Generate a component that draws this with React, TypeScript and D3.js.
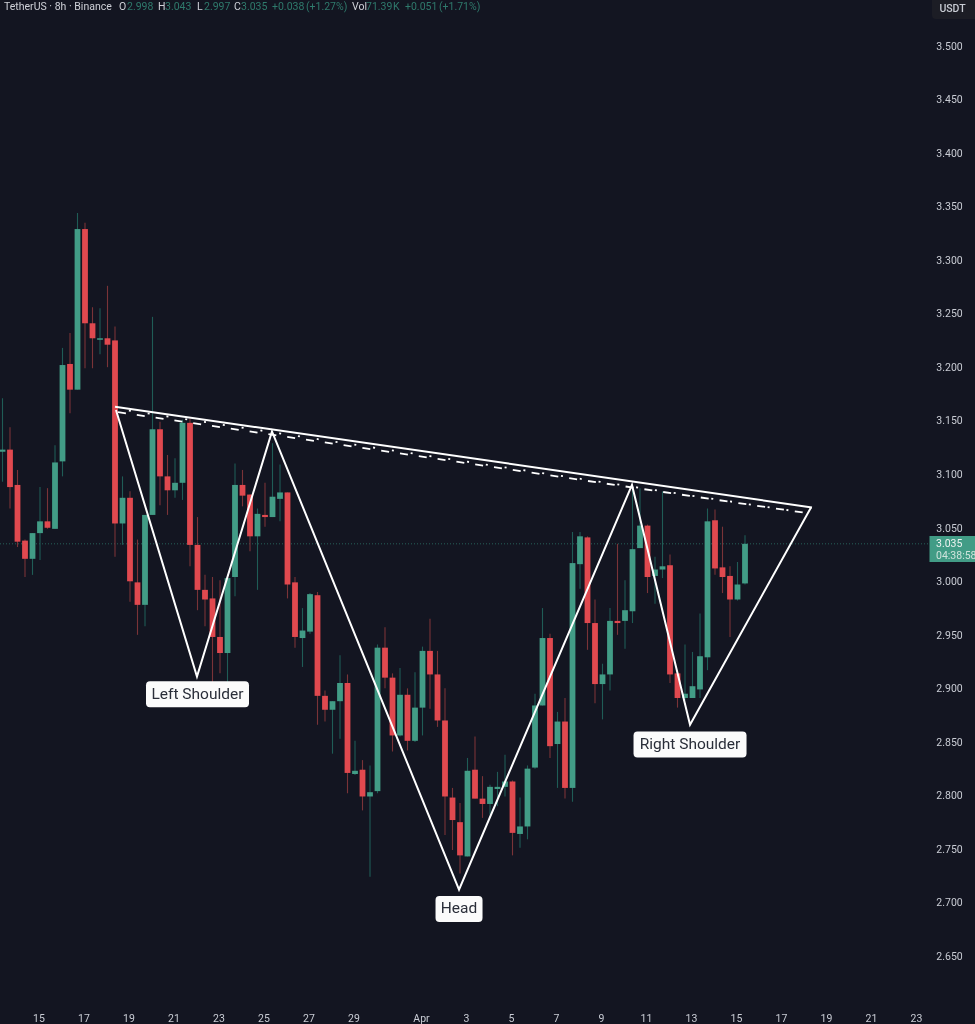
import React from "react";
import * as d3 from "d3";

const firstBar = -5;
const opens = [3.121,3.123,3.090,3.038,3.021,3.045,3.056,3.049,3.112,3.203,3.179,3.329,3.241,3.226,3.227,3.225,3.054,3.078,2.999,2.978,3.062,3.142,3.098,3.085,3.092,3.148,3.034,2.992,2.984,2.948,2.933,3.004,3.090,3.081,3.042,3.062,3.060,3.077,3.083,2.999,2.947,2.953,2.987,2.893,2.880,2.888,2.905,2.820,2.824,2.799,2.804,2.938,2.910,2.856,2.894,2.851,2.882,2.935,2.913,2.870,2.798,2.775,2.743,2.824,2.797,2.792,2.806,2.808,2.813,2.764,2.771,2.826,2.884,2.947,2.848,2.869,2.807,3.016,3.041,2.961,2.904,2.913,2.963,2.963,2.972,3.031,3.052,3.005,3.011,3.015,2.914,2.891,2.891,2.899,2.929,3.057,3.013,3.005,2.983,2.998];
const highs = [3.171,3.144,3.104,3.039,3.045,3.088,3.087,3.127,3.218,3.232,3.344,3.335,3.256,3.255,3.276,3.238,3.098,3.084,3.039,3.062,3.247,3.149,3.118,3.115,3.151,3.152,3.060,3.006,3.004,3.001,3.004,3.110,3.104,3.081,3.068,3.092,3.129,3.109,3.083,3.004,2.975,2.989,2.990,2.898,2.888,2.931,2.913,2.851,2.833,2.828,2.941,2.957,2.914,2.919,2.900,2.915,2.939,2.965,2.935,2.900,2.807,2.793,2.835,2.855,2.818,2.810,2.822,2.838,2.814,2.798,2.828,2.895,2.975,2.951,2.878,2.891,3.046,3.046,3.042,2.983,2.923,2.975,3.035,3.001,3.088,3.087,3.053,3.023,3.084,3.025,2.916,2.941,2.934,2.970,3.068,3.067,3.051,3.014,3.018,3.043];
const lows = [3.093,3.068,3.032,3.004,3.006,3.020,3.049,3.049,3.098,3.157,3.179,3.199,3.199,3.212,3.200,3.023,3.034,2.981,2.950,2.958,3.062,3.071,3.062,3.078,3.076,3.014,2.973,2.958,2.906,2.914,2.905,2.986,3.070,3.028,2.992,3.051,3.060,3.056,2.984,2.938,2.920,2.951,2.866,2.869,2.839,2.853,2.802,2.819,2.786,2.724,2.802,2.900,2.841,2.855,2.842,2.850,2.856,2.881,2.864,2.763,2.749,2.727,2.743,2.797,2.779,2.782,2.790,2.799,2.744,2.751,2.759,2.825,2.884,2.835,2.807,2.797,2.794,2.993,2.936,2.886,2.871,2.898,2.950,2.937,2.961,3.031,2.989,2.979,3.003,2.905,2.882,2.889,2.891,2.891,2.917,3.006,2.989,2.948,2.982,2.997];
const closes = [3.123,3.088,3.037,3.021,3.045,3.056,3.050,3.111,3.202,3.179,3.329,3.241,3.227,3.227,3.221,3.054,3.078,3.000,2.978,3.062,3.142,3.098,3.085,3.092,3.148,3.034,2.992,2.983,2.948,2.933,3.003,3.090,3.080,3.042,3.063,3.060,3.079,3.083,2.997,2.948,2.954,2.988,2.893,2.880,2.888,2.905,2.821,2.823,2.799,2.803,2.938,2.910,2.856,2.894,2.851,2.882,2.935,2.913,2.870,2.799,2.777,2.744,2.823,2.797,2.792,2.808,2.808,2.813,2.765,2.771,2.825,2.884,2.947,2.846,2.869,2.807,3.017,3.042,2.961,2.904,2.913,2.963,2.961,2.973,3.030,3.052,3.004,3.011,3.014,2.913,2.891,2.895,2.902,2.930,3.056,3.012,3.004,2.983,2.997,3.035];

const priceTicks = ["3.500","3.450","3.400","3.350","3.300","3.250","3.200","3.150","3.100","3.050","3.000","2.950","2.900","2.850","2.800","2.750","2.700","2.650"];
const dateLabels = ["15","17","19","21","23","25","27","29","Apr","3","5","7","9","11","13","15","17","19","21","23"];
const dateBars = [0,6,12,18,24,30,36,42,51,57,63,69,75,81,87,93,99,105,111,117];

const patternBars = [10.13,20.93,30.93,55.87,78.93,86.67,102.8];
const patternPrices = [3.160,2.911,3.140,2.712,3.090,2.866,3.069];
const neckBars = [10,102.93];
const neckPrices = [3.163,3.069];
const dashBars = [10.4,102];
const dashPrices = [3.158,3.064];
const dotPrices = [3.161,3.064];

const patternLabels = ["Left Shoulder","Head","Right Shoulder"];
const labelBars = [21,55.87,86.67];
const labelPrices = [2.8945,2.694,2.8475];
const labelWidths = [103,47,113];

const legendTexts = ["TetherUS · 8h · Binance","O","2.998","H","3.043","L","2.997","C","3.035","+0.038","(+1.27%)","Vol","71.39","K","+0.051","(+1.71%)"];
const legendXs = [4,119,127,158,165,197,204,234,241,272,306,352,366,393,405,439];
const legendGreen = [false,false,true,false,true,false,true,false,true,true,true,false,true,true,true,true];

const lastPrice = 3.035;

const BG = "#131521";
const GREEN = "#429c86";
const RED = "#e0494f";
const GREEN_WICK = "#1f5c56";
const RED_WICK = "#7a3338";
const FONT = "Roboto, 'Noto Sans', sans-serif";

const x = d3.scaleLinear().domain([0, 100]).range([40, 790]);
const y = d3.scaleLinear().domain([3.5, 2.65]).range([46, 956]);
const line = d3.line<[number, number]>().x((d) => x(d[0])).y((d) => y(d[1]));

export default function App() {
  const bw = 5.8;
  const pattern = patternBars.map((b, i) => [b, patternPrices[i]] as [number, number]);
  const neck = neckBars.map((b, i) => [b, neckPrices[i]] as [number, number]);
  const dash = dashBars.map((b, i) => [b, dashPrices[i]] as [number, number]);
  const dot = dashBars.map((b, i) => [b, dotPrices[i]] as [number, number]);
  return (
    <svg
      width={975}
      height={1024}
      viewBox="0 0 975 1024"
      style={{ position: "fixed", left: 0, top: 0, display: "block", background: BG }}
    >
      <defs>
        <filter id="soft" x="0" y="0" width="1" height="1" filterUnits="objectBoundingBox" colorInterpolationFilters="sRGB">
          <feGaussianBlur stdDeviation="0.45" />
        </filter>
      </defs>
      <rect x={0} y={0} width={975} height={1024} fill={BG} />
      <g filter="url(#soft)">
        <rect x={0} y={0} width={975} height={1024} fill={BG} />
        <line x1={0} x2={930} y1={y(lastPrice)} y2={y(lastPrice)} stroke="#2f7f70" strokeWidth={1} strokeDasharray="1 2" opacity={0.7} />

        <g>
          {opens.map((o, i) => {
            const up = closes[i] >= o;
            const cx = x(firstBar + i);
            return (
              <line key={i} x1={cx} x2={cx} y1={y(highs[i])} y2={y(lows[i])} stroke={up ? GREEN_WICK : RED_WICK} strokeWidth={1.1} />
            );
          })}
        </g>
        <g>
          {opens.map((o, i) => {
            const up = closes[i] >= o;
            const top = y(Math.max(o, closes[i]));
            const bot = y(Math.min(o, closes[i]));
            return (
              <rect key={i} x={x(firstBar + i) - bw / 2} y={top} width={bw} height={Math.max(1.5, bot - top)} fill={up ? GREEN : RED} />
            );
          })}
        </g>

        <path d={line(dash) ?? ""} fill="none" stroke="#ffffff" strokeWidth={1.8} strokeDasharray="8 11" />
        <path d={line(dot) ?? ""} fill="none" stroke="#ffffff" strokeWidth={1.8} strokeDasharray="2 17" strokeDashoffset={-11} />
        <path d={line(neck) ?? ""} fill="none" stroke="#ffffff" strokeWidth={2} />
        <path d={line(pattern) ?? ""} fill="none" stroke="#ffffff" strokeWidth={2} strokeLinejoin="miter" />

        {patternLabels.map((t, i) => {
          const w = labelWidths[i];
          const cx = x(labelBars[i]);
          const cy = y(labelPrices[i]);
          return (
            <g key={t}>
              <rect x={cx - w / 2} y={cy - 13} width={w} height={26} rx={4} fill="#fbfbfb" />
              <text x={cx} y={cy + 0.5} textAnchor="middle" dominantBaseline="middle" fontFamily={FONT} fontSize={15.5} fill="#2a2e39">{t}</text>
            </g>
          );
        })}

        {legendTexts.map((t, i) => (
          <text key={i} x={legendXs[i]} y={7} dominantBaseline="middle" fontFamily={FONT} fontSize={10.5} fill={legendGreen[i] ? "#2f7a6c" : "#cfd1d8"}>{t}</text>
        ))}

        {priceTicks.map((t) => (
          <text key={t} x={949.5} y={y(+t) + 1} textAnchor="middle" dominantBaseline="middle" fontFamily={FONT} fontSize={10.5} fill="#c9ccd4">{t}</text>
        ))}

        {dateLabels.map((t, i) => (
          <text key={i} x={x(dateBars[i]) - 1} y={1019.5} textAnchor="middle" dominantBaseline="middle" fontFamily={FONT} fontSize={10.5} fill="#c9ccd4">{t}</text>
        ))}

        <path d="M932 -2 H977 V19 H936 Q932 19 932 15 Z" fill="#1c1d25" />
        <text x={952.5} y={9.5} textAnchor="middle" dominantBaseline="middle" fontFamily={FONT} fontSize={10.5} fontWeight={500} fill="#c9ccd4">USDT</text>

        <rect x={929.5} y={536} width={47} height={26} fill="#429c86" />
        <text x={936} y={y(lastPrice) + 0.5} dominantBaseline="middle" fontFamily={FONT} fontSize={10.5} fill="#eef3f1">{lastPrice.toFixed(3)}</text>
        <text x={936} y={556} dominantBaseline="middle" fontFamily={FONT} fontSize={10.5} fill="#cfe3dc">04:38:58</text>
      </g>
    </svg>
  );
}
